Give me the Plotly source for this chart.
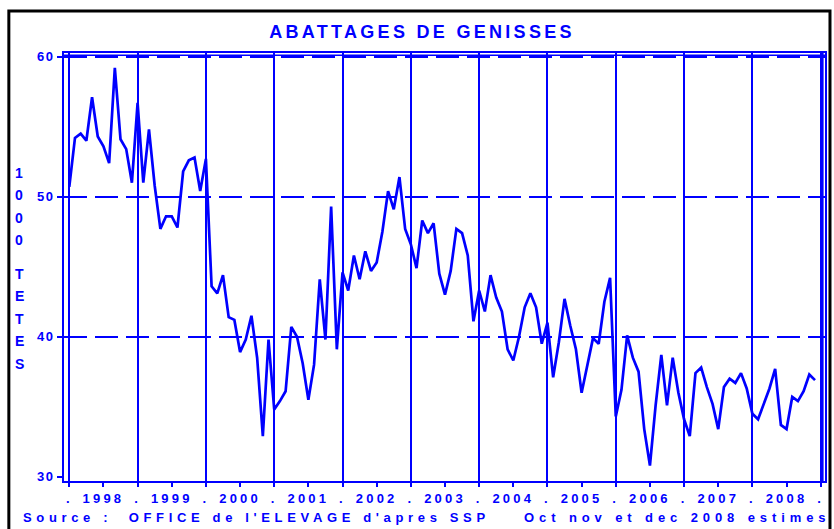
import plotly.graph_objects as go

# ---------------- data (monthly, Jan 1998 .. Dec 2008), thousand head ----------------
start_year = 1998
values = [
    # 1998
    50.7, 54.2, 54.5, 54.0, 57.1, 54.3, 53.6, 52.4, 59.2, 54.1, 53.4, 51.0,
    # 1999
    56.7, 51.0, 54.8, 50.8, 47.7, 48.6, 48.6, 47.8, 51.8, 52.6, 52.8, 50.4,
    # 2000
    52.7, 43.6, 43.1, 44.4, 41.4, 41.2, 38.9, 39.8, 41.5, 38.5, 32.9, 39.8,
    # 2001
    34.8, 35.4, 36.1, 40.7, 40.0, 38.1, 35.5, 38.0, 44.1, 39.8, 49.3, 39.1,
    # 2002
    44.6, 43.3, 45.8, 44.1, 46.1, 44.7, 45.3, 47.5, 50.4, 49.1, 51.4, 47.7,
    # 2003
    46.6, 44.9, 48.3, 47.4, 48.1, 44.5, 43.0, 44.7, 47.7, 47.4, 45.8, 41.1,
    # 2004
    43.3, 41.8, 44.4, 42.8, 41.8, 39.1, 38.3, 40.0, 42.1, 43.1, 42.1, 39.5,
    # 2005
    41.0, 37.1, 39.6, 42.7, 40.8, 39.1, 36.0, 38.0, 39.9, 39.5, 42.5, 44.2,
    # 2006
    34.3, 36.2, 40.1, 38.5, 37.5, 33.4, 30.8, 35.1, 38.7, 35.1, 38.5, 36.0,
    # 2007
    34.1, 32.9, 37.4, 37.8, 36.4, 35.2, 33.4, 36.4, 37.0, 36.7, 37.4, 36.3,
    # 2008
    34.5, 34.1, 35.2, 36.3, 37.7, 33.7, 33.4, 35.7, 35.4, 36.1, 37.3, 36.9,
]
year_labels = [str(y) for y in range(1998, 2009)]
y_ticks = [30, 40, 50, 60]
y_grid = [40, 50, 60]
y_title_letters_1 = ["1", "0", "0", "0"]
y_title_letters_2 = ["T", "E", "T", "E", "S"]

title_text = "ABATTAGES DE GENISSES"
source_left = "Source :  OFFICE de l'ELEVAGE d'apres SSP"
source_right = "Oct nov et dec 2008 estimes"

BLUE = "#0000FF"
FONT = "Liberation Sans"

# ---------------- derived ----------------
months = [start_year + i / 12.0 for i in range(len(values))]
first_year = int(year_labels[0])
last_year = int(year_labels[-1]) + 1
bound_vals = list(range(first_year, last_year + 1))
tickvals, ticktext = [], []
for y in bound_vals:
    tickvals.append(y)
    ticktext.append(".")
    if str(y) in year_labels:
        tickvals.append(y + 0.5)
        ticktext.append(str(y))

def spaced(s, px):
    return "<span style='letter-spacing:%spx'>%s</span>" % (px, s)

W, H = 834, 529
L, R, T, B = 64, 7, 53, 48
plot_w = W - L - R
plot_h = H - T - B

# axis ranges (pixel calibrated)
yr_px = 68.49
x0_px = 69.3
x_min = first_year - (x0_px - L) / yr_px
x_max = first_year + ((W - R) - x0_px) / yr_px
y_px_per = 14.0
y_top = 60 + (56.7 - T) / y_px_per
y_bot = 60 - ((H - B) - 56.7) / y_px_per

fig = go.Figure()
fig.add_trace(go.Scatter(
    x=months, y=values, mode="lines",
    line=dict(color=BLUE, width=2.7),
    hoverinfo="skip", showlegend=False,
))
# invisible helper trace so the overlaid grid axes get drawn
fig.add_trace(go.Scatter(
    x=months[:1], y=values[:1], mode="markers", xaxis="x2", yaxis="y2",
    marker=dict(size=1, opacity=0), hoverinfo="skip", showlegend=False,
))

tickfont = dict(family=FONT, size=13, color=BLUE, weight="bold")

fig.update_layout(
    width=W, height=H,
    margin=dict(l=L, r=R, t=T, b=B),
    paper_bgcolor="white", plot_bgcolor="white",
    showlegend=False,
    title=dict(
        text=spaced(title_text, 3.3),
        font=dict(family=FONT, size=18, color=BLUE, weight="bold"),
        x=422 / W, xref="container", xanchor="center",
        y=1 - 32 / H, yref="container", yanchor="middle",
    ),
    xaxis=dict(
        range=[x_min, x_max], tickmode="array",
        tickvals=tickvals, ticktext=[spaced(t, 3.2) for t in ticktext],
        ticks="outside", ticklen=4, tickwidth=2, tickcolor=BLUE,
        tickfont=tickfont, ticklabelstandoff=0,
        showgrid=False, zeroline=False,
        showline=True, linecolor=BLUE, linewidth=2, mirror=True,
    ),
    xaxis2=dict(
        range=[x_min, x_max], overlaying="x", anchor="y", side="bottom",
        tickmode="array", tickvals=bound_vals, showticklabels=False, ticks="",
        showgrid=True, gridcolor=BLUE, gridwidth=1.8,
        zeroline=False, showline=False,
    ),
    yaxis=dict(
        range=[y_bot, y_top], tickmode="array", tickvals=y_ticks,
        ticktext=[spaced(str(v), 1.5) for v in y_ticks],
        ticks="outside", ticklen=5, tickwidth=2, tickcolor=BLUE,
        tickfont=tickfont, ticklabelstandoff=0,
        showgrid=False, zeroline=False,
        showline=True, linecolor=BLUE, linewidth=2, mirror=True,
    ),
    yaxis2=dict(
        range=[y_bot, y_top], overlaying="y", anchor="x", side="left",
        tickmode="array", tickvals=y_grid, showticklabels=False, ticks="",
        showgrid=True, gridcolor=BLUE, gridwidth=1.8, griddash="23px,8px",
        zeroline=False, showline=False,
    ),
)

def px_x(px):
    return (px - L) / plot_w

def px_y(py):
    return ((H - B) - py) / plot_h

shapes = [
    # outer black frame
    dict(type="rect", xref="paper", yref="paper",
         x0=px_x(8.7), x1=px_x(832), y0=px_y(540), y1=px_y(11),
         line=dict(color="black", width=3), fillcolor="rgba(0,0,0,0)"),
    # inner double lines of the plot frame
    dict(type="line", xref="paper", yref="paper",
         x0=0, x1=1, y0=px_y(55.2), y1=px_y(55.2),
         line=dict(color=BLUE, width=1.6)),
    dict(type="line", xref="paper", yref="paper",
         x0=px_x(824.8), x1=px_x(824.8), y0=0, y1=1,
         line=dict(color=BLUE, width=1.6)),
]
fig.update_layout(shapes=shapes)

annotations = []
letter_font = dict(family=FONT, size=14, color=BLUE, weight="bold")
for k, ch in enumerate(y_title_letters_1):
    annotations.append(dict(text=ch, xref="paper", yref="paper",
                            x=px_x(19), y=px_y(172.5 + 22.5 * k),
                            xanchor="center", yanchor="middle",
                            showarrow=False, font=letter_font))
for k, ch in enumerate(y_title_letters_2):
    annotations.append(dict(text=ch, xref="paper", yref="paper",
                            x=px_x(19), y=px_y(274 + 22.4 * k),
                            xanchor="center", yanchor="middle",
                            showarrow=False, font=letter_font))
src_font = dict(family=FONT, size=13, color=BLUE, weight="bold")
annotations.append(dict(text=spaced(source_left, 4.65), xref="paper", yref="paper",
                        x=px_x(21), y=px_y(517), xanchor="left", yanchor="middle",
                        showarrow=False, font=src_font))
annotations.append(dict(text=spaced(source_right, 4.9), xref="paper", yref="paper",
                        x=px_x(834), y=px_y(517), xanchor="right", yanchor="middle",
                        showarrow=False, font=src_font))
fig.update_layout(annotations=annotations)

fig.write_html("out.html", config={"displayModeBar": False},
               post_script="document.body.style.margin='0px';")
